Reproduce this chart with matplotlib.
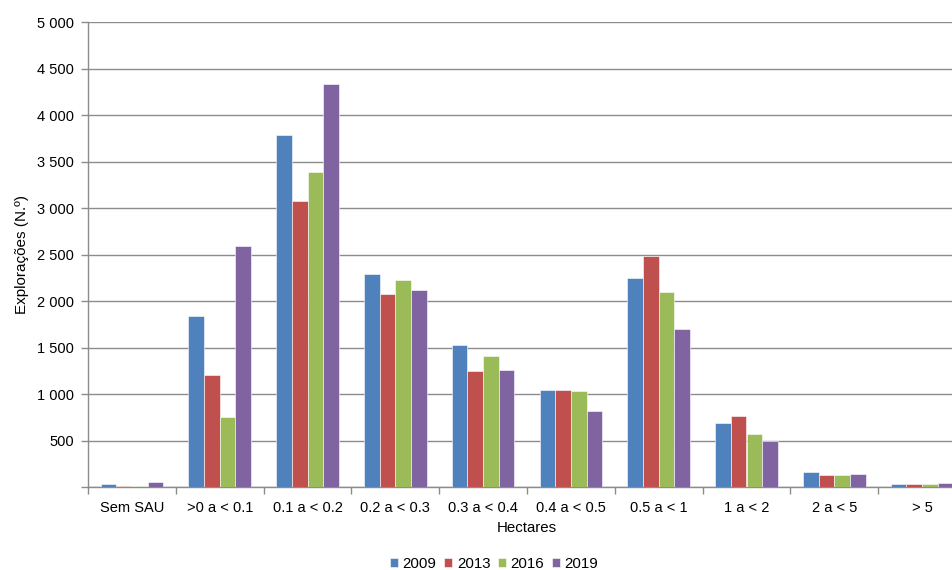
import matplotlib
matplotlib.use("Agg")
import matplotlib.pyplot as plt
import numpy as np
from matplotlib.ticker import FuncFormatter

plt.rcParams['font.family'] = ['Liberation Sans', 'DejaVu Sans']

categories = ["Sem SAU", ">0 a < 0.1", "0.1 a < 0.2", "0.2 a < 0.3", "0.3 a < 0.4",
              "0.4 a < 0.5", "0.5 a < 1", "1 a < 2", "2 a < 5", "> 5"]
years = ["2009", "2013", "2016", "2019"]
v2009 = [32, 1842, 3785, 2290, 1527, 1043, 2247, 695, 161, 39]
v2013 = [14, 1208, 3082, 2082, 1250, 1046, 2490, 770, 129, 39]
v2016 = [12, 756, 3387, 2226, 1408, 1039, 2097, 570, 135, 36]
v2019 = [57, 2594, 4333, 2125, 1261, 817, 1705, 495, 143, 46]
series = [v2009, v2013, v2016, v2019]
colors = ["#4F81BD", "#C0504D", "#9BBB59", "#8064A2"]

fig = plt.figure(figsize=(9.52, 5.70), dpi=100)
ax = fig.add_axes([88/952, 82.7/570, 878/952, 465/570])

x = np.arange(len(categories))
bw = 0.178
for i, (vals, c, yr) in enumerate(zip(series, colors, years)):
    ax.bar(x + (i - 1.5) * bw, vals, width=bw, color=c, edgecolor='#FFFFFF',
           linewidth=0.4, label=yr, zorder=3)

ax.set_xlim(-0.5, len(categories) - 0.5)
ax.set_ylim(0, 5000)
ax.set_yticks(np.arange(0, 5001, 500))
ax.yaxis.set_major_formatter(FuncFormatter(
    lambda v, p: "" if v == 0 else f"{int(v):,}".replace(",", " ")))
ax.grid(axis='y', color='#8C8C8C', linewidth=1.0, zorder=0)
ax.set_axisbelow(True)

ax.set_xticks(x)
ax.set_xticklabels(categories)
ax.set_xticks(np.arange(-0.5, len(categories), 1), minor=True)
ax.tick_params(axis='x', which='major', length=0, pad=10, labelsize=10.5, colors='black')
ax.tick_params(axis='x', which='minor', length=5, color='#8C8C8C', width=1)
ax.tick_params(axis='y', length=5, color='#8C8C8C', width=1, labelsize=10.5, pad=5)

for s in ['top', 'right']:
    ax.spines[s].set_visible(False)
for s in ['left', 'bottom']:
    ax.spines[s].set_color('#8C8C8C')
    ax.spines[s].set_linewidth(1)

ax.set_xlabel("Hectares", fontsize=10.8, labelpad=4)
ax.set_ylabel("Explorações (N.º)", fontsize=11, labelpad=6)

leg = fig.legend(loc='center', bbox_to_anchor=(494/952, 1 - 563.5/570), ncol=4,
                 frameon=False, fontsize=10.8, handlelength=0.55, handleheight=0.55,
                 handletextpad=0.3, columnspacing=0.5)

fig.savefig("out.png", dpi=100)
